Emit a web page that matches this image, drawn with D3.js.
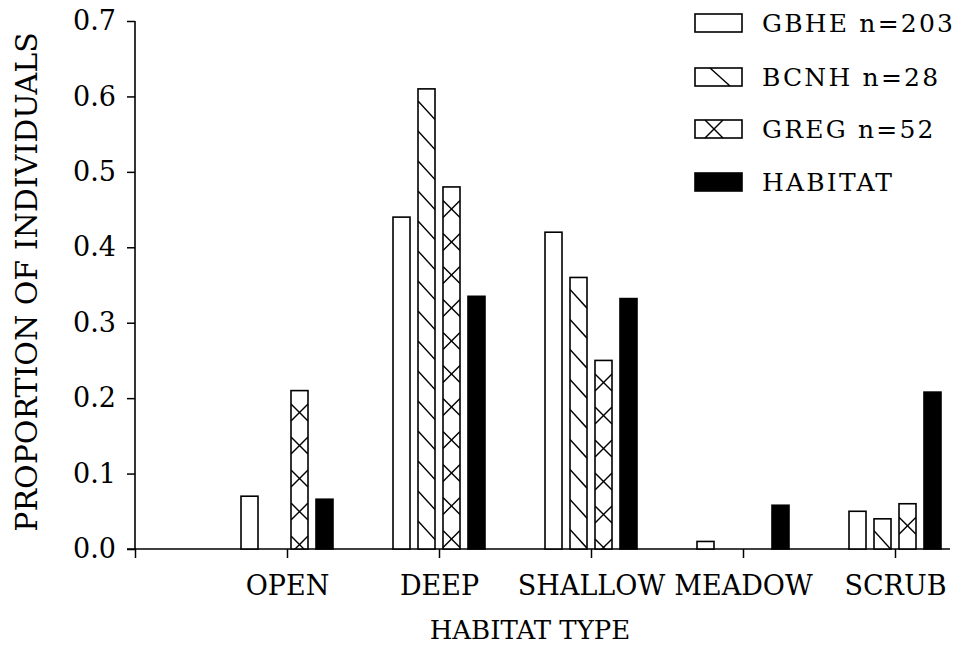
<!DOCTYPE html>
<html>
<head>
<meta charset="utf-8">
<script src="https://cdn.jsdelivr.net/npm/d3@7"></script>
<style>
  body { margin: 0; background: #fff; }
  svg text { font-family: "DejaVu Serif", "Liberation Serif", serif; fill: #000; }
</style>
</head>
<body>
<svg id="chart" width="964" height="646"></svg>
<script>
// Habitat use by heron species vs. habitat availability
const categories = ["OPEN", "DEEP", "SHALLOW", "MEADOW", "SCRUB"];
const seriesKeys = ["GBHE", "BCNH", "GREG", "HABITAT"];
const seriesLabels = ["GBHE n=203", "BCNH n=28", "GREG n=52", "HABITAT"];
const gbheValues = [0.07, 0.44, 0.42, 0.01, 0.05];
const bcnhValues = [0.0, 0.61, 0.36, 0.0, 0.04];
const gregValues = [0.21, 0.48, 0.25, 0.0, 0.06];
const habitatValues = [0.066, 0.335, 0.332, 0.058, 0.208];
const yTickValues = [0.0, 0.1, 0.2, 0.3, 0.4, 0.5, 0.6, 0.7];
const yTitle = "PROPORTION OF INDIVIDUALS";
const xTitle = "HABITAT TYPE";

const seriesValues = [gbheValues, bcnhValues, gregValues, habitatValues];
const rows = [];
categories.forEach((c, i) => {
  seriesKeys.forEach((k, j) => rows.push({ cat: c, key: k, value: seriesValues[j][i] }));
});

const svg = d3.select("#chart");
const x0 = 135, x1 = 895, xEnd = 950, yBase = 549, yTop = 21;

const x = d3.scalePoint().domain(["", ...categories]).range([x0, x1]);
const inner = d3.scaleBand().domain(seriesKeys).range([-46, 46]).paddingInner(0.32);
const y = d3.scaleLinear().domain([0, 0.7]).range([yBase, yTop]);

// y axis
const yAxis = svg.append("g")
  .attr("transform", `translate(${x0},0)`)
  .call(d3.axisLeft(y).tickValues(yTickValues).tickSize(8).tickPadding(11)
    .tickFormat(d3.format(".1f")));
yAxis.select(".domain").remove();
yAxis.selectAll("line").attr("stroke", "#000").attr("stroke-width", 1.5);
yAxis.selectAll("text").attr("font-size", 27).attr("font-family", null);
svg.append("line").attr("x1", x0).attr("x2", x0).attr("y1", y(0.7)).attr("y2", yBase)
  .attr("stroke", "#000").attr("stroke-width", 1.6);

// x axis
const xAxis = svg.append("g")
  .attr("transform", `translate(0,${yBase})`)
  .call(d3.axisBottom(x).tickSize(9));
xAxis.select(".domain").remove();
xAxis.selectAll("line").attr("stroke", "#000").attr("stroke-width", 1.5);
xAxis.selectAll("text").attr("font-size", 27).attr("font-family", null)
  .attr("y", 46).attr("dy", null);
svg.append("line").attr("x1", x0 - 8).attr("x2", xEnd).attr("y1", yBase).attr("y2", yBase)
  .attr("stroke", "#000").attr("stroke-width", 1.6);

// axis titles
svg.append("text")
  .attr("transform", `translate(37,282) rotate(-90)`)
  .attr("text-anchor", "middle").attr("font-size", 30)
  .text(yTitle);
svg.append("text")
  .attr("x", 530).attr("y", 639)
  .attr("text-anchor", "middle").attr("font-size", 26)
  .text(xTitle);

// hatch decorations inside a rectangle
function drawHatch(g, key, bx, by, bw, bh) {
  if (key === "BCNH") {
    const drop = bw * 1.1;
    for (let yy = by + 12; yy < by + bh; yy += 30) {
      g.append("line").attr("x1", bx).attr("y1", yy).attr("x2", bx + bw).attr("y2", yy + drop);
    }
  } else if (key === "GREG") {
    const h = bw / 2;
    for (let yc = by + 22; yc - h < by + bh; yc += 33) {
      g.append("line").attr("x1", bx).attr("y1", yc - h).attr("x2", bx + bw).attr("y2", yc + h);
      g.append("line").attr("x1", bx + bw).attr("y1", yc - h).attr("x2", bx).attr("y2", yc + h);
    }
  }
}

const defs = svg.append("defs");
const bw = inner.bandwidth();

rows.forEach((d, i) => {
  if (d.value <= 0) return;
  const bx = x(d.cat) + inner(d.key);
  const by = y(d.value);
  const bh = yBase - by;
  const g = svg.append("g");
  g.append("rect")
    .attr("x", bx).attr("y", by).attr("width", bw).attr("height", bh)
    .attr("fill", d.key === "HABITAT" ? "#000" : "#fff")
    .attr("stroke", "#000").attr("stroke-width", 1.6);
  if (d.key === "BCNH" || d.key === "GREG") {
    const id = "clip" + i;
    defs.append("clipPath").attr("id", id).append("rect")
      .attr("x", bx).attr("y", by).attr("width", bw).attr("height", bh);
    const hg = g.append("g").attr("clip-path", `url(#${id})`)
      .attr("stroke", "#000").attr("stroke-width", 1.4);
    drawHatch(hg, d.key, bx, by, bw, bh);
  }
});

// legend
const legendRows = [23, 77, 129, 182];
const sw = 47, sh = 18, lx = 695;
seriesKeys.forEach((k, j) => {
  const cy = legendRows[j];
  const g = svg.append("g");
  g.append("rect").attr("x", lx).attr("y", cy - sh / 2).attr("width", sw).attr("height", sh)
    .attr("fill", k === "HABITAT" ? "#000" : "#fff").attr("stroke", "#000").attr("stroke-width", 1.6);
  const hg = g.append("g").attr("stroke", "#000").attr("stroke-width", 1.4);
  if (k === "BCNH") {
    hg.append("line").attr("x1", lx + 15).attr("y1", cy - sh / 2).attr("x2", lx + 35).attr("y2", cy + sh / 2);
  } else if (k === "GREG") {
    hg.append("line").attr("x1", lx + 10).attr("y1", cy - sh / 2).attr("x2", lx + 28).attr("y2", cy + sh / 2);
    hg.append("line").attr("x1", lx + 28).attr("y1", cy - sh / 2).attr("x2", lx + 10).attr("y2", cy + sh / 2);
  }
  g.append("text").attr("x", 762).attr("y", cy).attr("dy", "0.36em")
    .attr("font-size", 25).attr("letter-spacing", 2.2).text(seriesLabels[j]);
});
</script>
</body>
</html>
